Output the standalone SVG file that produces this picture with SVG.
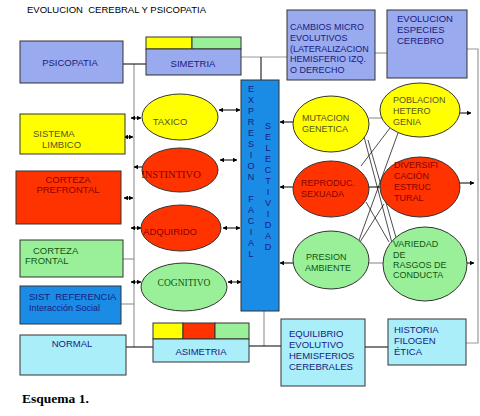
<svg xmlns="http://www.w3.org/2000/svg" width="480" height="416" viewBox="0 0 480 416">
<defs>
<marker id="ah" viewBox="0 0 10 10" refX="9" refY="5" markerWidth="4.5" markerHeight="4.5" orient="auto-start-reverse" markerUnits="userSpaceOnUse"><path d="M0,0 L10,5 L0,10 z" fill="#000"/></marker>
</defs>
<style>
text{font-family:"Liberation Sans",Arial,sans-serif;font-size:9.5px}
.peri{fill:#99AAEE;stroke:#333;stroke-width:1}
.yel{fill:#FFFF00;stroke:#333;stroke-width:1}
.red{fill:#FF3300;stroke:#333;stroke-width:1}
.grn{fill:#99F099;stroke:#333;stroke-width:1}
.blu{fill:#1A8CE6;stroke:#333;stroke-width:1}
.cyan{fill:#AAEEFA;stroke:#333;stroke-width:1}
.navy{fill:#1A1A80}
.olive{fill:#555522}
.dred{fill:#880000}
.dgrn{fill:#115511}
.serif{font-family:"Liberation Serif","Times New Roman",serif}
.g{stroke:#999;stroke-width:1.2;fill:none}
.k{stroke:#000;stroke-width:1;fill:none}
.da{stroke:#000;stroke-width:1;fill:none;marker-start:url(#ah);marker-end:url(#ah)}
.sa{stroke:#000;stroke-width:1;fill:none;marker-end:url(#ah)}
.x{stroke:#000;stroke-width:0.7;fill:none}
</style>
<rect width="480" height="416" fill="#fff"/>
<text x="27" y="13" xml:space="preserve">EVOLUCION  CEREBRAL Y PSICOPATIA</text>

<g id="connectors">
<line class="g" x1="134" y1="64" x2="134" y2="347"/>
<line class="k" x1="123" y1="64" x2="146" y2="64"/>
<line class="g" x1="122" y1="259" x2="134" y2="259"/>
<line class="g" x1="121" y1="304" x2="134" y2="304"/>
<line class="k" x1="126" y1="347" x2="153" y2="347"/>
<line class="g" x1="241" y1="57" x2="287" y2="57"/>
<line class="k" x1="261" y1="57" x2="261" y2="80"/>
<line class="g" x1="375" y1="53" x2="387" y2="53"/>
<polyline class="g" points="467,49 478,49 478,343 466,343"/>
<line class="g" x1="264" y1="311" x2="264" y2="346"/>
<line class="k" x1="249" y1="346" x2="281" y2="346"/>
<line class="k" x1="365" y1="347" x2="388" y2="347"/>
<line class="da" x1="131" y1="118" x2="141" y2="118"/>
<line class="da" x1="124" y1="137" x2="133" y2="137"/>
<line class="sa" x1="142" y1="167" x2="134" y2="167"/>
<line class="da" x1="124" y1="198" x2="133" y2="198"/>
<line class="da" x1="131" y1="228" x2="141" y2="228"/>
<line class="da" x1="131" y1="282" x2="141" y2="282"/>
<line class="da" x1="219" y1="110" x2="240" y2="110"/>
<line class="da" x1="220" y1="160" x2="237" y2="160"/>
<line class="da" x1="223" y1="228" x2="240" y2="228"/>
<line class="da" x1="228" y1="282" x2="241" y2="282"/>
<line class="sa" x1="293" y1="122" x2="280" y2="122"/>
<line class="sa" x1="293" y1="187" x2="280" y2="187"/>
<line class="sa" x1="293" y1="263" x2="280" y2="263"/>
<line class="g" x1="369" y1="118" x2="382" y2="118"/>
<line class="k" x1="366" y1="187" x2="383" y2="187"/>
<line class="g" x1="369" y1="263" x2="384" y2="263"/>
<line class="sa" x1="460" y1="113" x2="471" y2="113"/>
<line class="sa" x1="460" y1="183" x2="474" y2="183"/>
<line class="sa" x1="466" y1="263" x2="474" y2="263"/>
<line class="x" x1="363" y1="133" x2="392" y2="243"/>
<line class="x" x1="368" y1="140" x2="397" y2="241"/>
<line class="x" x1="390" y1="128" x2="361" y2="166"/>
<line class="x" x1="398" y1="133" x2="358" y2="243"/>
<line class="x" x1="366" y1="202" x2="389" y2="242"/>
<line class="x" x1="384" y1="204" x2="360" y2="242"/>
</g>

<g id="psicopatia"><rect class="peri" x="20" y="41" width="103" height="42"/><text class="navy" x="70" y="66" text-anchor="middle">PSICOPATIA</text></g>
<g id="simetria">
<rect x="146" y="37" width="46" height="12" fill="#FFFF00" stroke="#333"/>
<rect x="192" y="37" width="49" height="12" fill="#99F099" stroke="#333"/>
<rect class="peri" x="146" y="49" width="95" height="26"/>
<text class="navy" x="193" y="67" text-anchor="middle">SIMETRIA</text></g>
<g id="sistema-limbico"><rect class="yel" x="20" y="114" width="105" height="40"/><text class="olive" x="33" y="137">SISTEMA</text><text class="olive" x="42" y="148">LIMBICO</text></g>
<g id="corteza-prefrontal"><rect class="red" x="16" y="171" width="105" height="53"/><text class="dred" x="68" y="183" text-anchor="middle">CORTEZA</text><text class="dred" x="68" y="193" text-anchor="middle">PREFRONTAL</text></g>
<g id="corteza-frontal"><rect class="grn" x="20" y="240" width="103" height="37"/><text class="dgrn" x="33" y="254">CORTEZA</text><text class="dgrn" x="25" y="264">FRONTAL</text></g>
<g id="sist-referencia"><rect class="blu" x="20" y="286" width="101" height="38"/><text class="navy" x="29" y="300" xml:space="preserve">SIST  REFERENCIA</text><text class="navy" x="29" y="311" style="font-size:9px">Interacción Social</text></g>
<g id="normal"><rect class="cyan" x="20" y="335" width="106" height="40"/><text class="navy" x="72" y="347" text-anchor="middle">NORMAL</text></g>
<g id="asimetria">
<rect x="153" y="323" width="30" height="16" fill="#FFFF00" stroke="#333"/>
<rect x="183" y="323" width="32" height="16" fill="#FF3300" stroke="#333"/>
<rect x="215" y="323" width="34" height="16" fill="#99F099" stroke="#333"/>
<rect class="cyan" x="153" y="339" width="96" height="23"/>
<text class="navy" x="201" y="355" text-anchor="middle">ASIMETRIA</text></g>

<g id="taxico"><ellipse class="yel" cx="180" cy="117" rx="38" ry="23"/><text class="olive" x="170" y="125" text-anchor="middle">TAXICO</text></g>
<g id="instintivo"><ellipse class="red" cx="180" cy="170" rx="38" ry="22"/><text class="dred serif" x="171" y="178" text-anchor="middle" style="font-size:10.5px">INSTINTIVO</text></g>
<g id="adquirido"><ellipse class="red" cx="181" cy="228" rx="40" ry="23"/><text class="dred" x="170" y="235" text-anchor="middle">ADQUIRIDO</text></g>
<g id="cognitivo"><ellipse class="grn" cx="184" cy="287" rx="43" ry="24"/><text class="dgrn serif" x="184" y="286" text-anchor="middle" style="font-size:9.5px">COGNITIVO</text></g>

<g id="expresion-selectividad"><rect class="blu" x="241" y="80" width="38" height="231"/>
<text class="navy" text-anchor="middle" style="font-size:9px">
<tspan x="251" y="92">E</tspan><tspan x="251" y="103">X</tspan><tspan x="251" y="114">P</tspan><tspan x="251" y="125">R</tspan><tspan x="251" y="136">E</tspan><tspan x="251" y="147">S</tspan><tspan x="251" y="158">I</tspan><tspan x="251" y="169">O</tspan><tspan x="251" y="180">N</tspan><tspan x="251" y="202">F</tspan><tspan x="251" y="213">A</tspan><tspan x="251" y="224">C</tspan><tspan x="251" y="235">I</tspan><tspan x="251" y="246">A</tspan><tspan x="251" y="257">L</tspan>
</text>
<text class="navy" text-anchor="middle" style="font-size:9px">
<tspan x="268" y="129">S</tspan><tspan x="268" y="140">E</tspan><tspan x="268" y="151">L</tspan><tspan x="268" y="162">E</tspan><tspan x="268" y="173">C</tspan><tspan x="268" y="184">T</tspan><tspan x="268" y="195">I</tspan><tspan x="268" y="206">V</tspan><tspan x="268" y="217">I</tspan><tspan x="268" y="228">D</tspan><tspan x="268" y="239">A</tspan><tspan x="268" y="250">D</tspan>
</text></g>

<g id="cambios-micro"><rect class="peri" x="287" y="10" width="88" height="70"/>
<text class="navy" style="font-size:9px"><tspan x="290" y="30">CAMBIOS MICRO</tspan><tspan x="290" y="41">EVOLUTIVOS</tspan><tspan x="290" y="52">(LATERALIZACION</tspan><tspan x="290" y="62">HEMISFERIO IZQ.</tspan><tspan x="290" y="73">O DERECHO</tspan></text></g>
<g id="evolucion-especies"><rect class="peri" x="387" y="10" width="80" height="68"/>
<text class="navy"><tspan x="397" y="22">EVOLUCION</tspan><tspan x="397" y="33">ESPECIES</tspan><tspan x="397" y="44">CEREBRO</tspan></text></g>

<g id="mutacion"><ellipse class="yel" cx="331" cy="124" rx="38" ry="28"/><text class="olive" style="font-size:9px"><tspan x="302" y="121">MUTACION</tspan><tspan x="302" y="132">GENETICA</tspan></text></g>
<g id="poblacion"><ellipse class="yel" cx="420" cy="110" rx="40" ry="27"/><text class="olive" style="font-size:9px"><tspan x="393" y="103">POBLACION</tspan><tspan x="393" y="114">HETERO</tspan><tspan x="393" y="125">GENIA</tspan></text></g>
<g id="reproduc"><ellipse class="red" cx="331" cy="189" rx="38" ry="28"/><text class="dred" style="font-size:9px"><tspan x="301" y="186">REPRODUC.</tspan><tspan x="301" y="197">SEXUADA</tspan></text></g>
<g id="diversificacion"><ellipse class="red" cx="420" cy="187" rx="40" ry="30"/><text class="dred" style="font-size:9px"><tspan x="394" y="168">DIVERSIFI</tspan><tspan x="394" y="179">CACIÓN</tspan><tspan x="394" y="190">ESTRUC</tspan><tspan x="394" y="201">TURAL</tspan></text></g>
<g id="presion"><ellipse class="grn" cx="331" cy="260" rx="38" ry="29"/><text class="dgrn" style="font-size:9px"><tspan x="306" y="260">PRESION</tspan><tspan x="305" y="271">AMBIENTE</tspan></text></g>
<g id="variedad"><ellipse class="grn" cx="425" cy="264" rx="42" ry="37"/><text class="dgrn" style="font-size:9px"><tspan x="393" y="247">VARIEDAD</tspan><tspan x="393" y="258">DE</tspan><tspan x="393" y="268">RASGOS DE</tspan><tspan x="393" y="278">CONDUCTA</tspan></text></g>

<g id="equilibrio"><rect class="cyan" x="281" y="319" width="84" height="67"/>
<text class="navy"><tspan x="289" y="337">EQUILIBRIO</tspan><tspan x="289" y="348">EVOLUTIVO</tspan><tspan x="289" y="359">HEMISFERIOS</tspan><tspan x="289" y="370">CEREBRALES</tspan></text></g>
<g id="historia"><rect class="cyan" x="388" y="319" width="78" height="46"/>
<text class="navy"><tspan x="394" y="333">HISTORIA</tspan><tspan x="394" y="344">FILOGEN</tspan><tspan x="394" y="355">ÉTICA</tspan></text></g>

<text class="serif" x="22" y="403" style="font-size:13.5px;font-weight:bold">Esquema 1.</text>
</svg>
